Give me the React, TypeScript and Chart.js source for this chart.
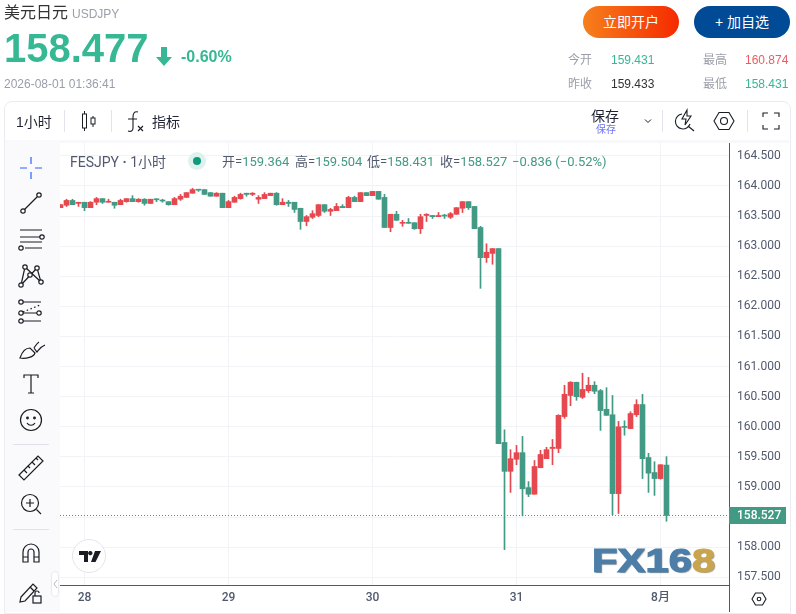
import React, { useEffect, useRef } from "react";
import { Chart, registerables } from "chart.js";
Chart.register(...registerables);

const firstIndex = -1;
const opens = [163.64,163.68,163.76,163.71,163.73,163.64,163.73,163.79,163.73,163.73,163.69,163.74,163.79,163.74,163.78,163.71,163.78,163.76,163.74,163.69,163.78,163.81,163.88,163.94,163.94,163.89,163.83,163.88,163.64,163.73,163.79,163.88,163.86,163.78,163.79,163.84,163.88,163.69,163.73,163.73,163.63,163.41,163.48,163.51,163.69,163.58,163.59,163.66,163.64,163.81,163.74,163.89,163.84,163.91,163.81,163.31,163.53,163.38,163.39,163.39,163.29,163.51,163.51,163.49,163.51,163.48,163.53,163.63,163.74,163.66,163.31,162.81,162.88,162.96,159.74,159.26,159.46,159.57,158.99,158.88,159.32,159.47,159.64,159.64,160.17,160.52,160.74,160.49,160.60,160.69,160.60,160.29,160.20,158.89,160.00,159.97,160.20,160.37,159.49,159.24,159.14,159.364];
const highs = [163.69,163.78,163.78,163.73,163.73,163.74,163.81,163.79,163.78,163.73,163.78,163.79,163.84,163.79,163.79,163.78,163.79,163.78,163.74,163.81,163.86,163.89,163.96,163.94,163.94,163.89,163.89,163.88,163.76,163.83,163.88,163.88,163.89,163.84,163.89,163.88,163.89,163.79,163.76,163.73,163.63,163.51,163.59,163.69,163.69,163.63,163.71,163.69,163.83,163.83,163.89,163.89,163.91,163.91,163.86,163.53,163.58,163.43,163.46,163.39,163.53,163.54,163.51,163.56,163.53,163.56,163.64,163.74,163.74,163.66,163.33,163.04,162.96,162.96,159.95,159.62,159.69,159.84,159.09,159.44,159.61,159.66,159.79,160.20,160.69,160.75,160.74,160.89,160.82,160.75,160.62,160.65,160.52,160.09,160.10,160.25,160.45,160.54,159.56,159.42,159.37,159.504];
const lows = [163.64,163.66,163.69,163.66,163.59,163.64,163.69,163.71,163.73,163.63,163.69,163.73,163.74,163.73,163.68,163.71,163.74,163.73,163.68,163.69,163.76,163.81,163.88,163.91,163.86,163.83,163.83,163.64,163.64,163.73,163.78,163.83,163.84,163.71,163.79,163.84,163.68,163.69,163.66,163.56,163.28,163.34,163.46,163.49,163.56,163.51,163.59,163.64,163.64,163.74,163.74,163.84,163.84,163.78,163.31,163.24,163.43,163.33,163.38,163.28,163.21,163.41,163.46,163.49,163.46,163.46,163.53,163.56,163.61,163.29,162.30,162.73,162.70,159.72,157.96,158.91,159.37,158.52,158.84,158.88,159.32,159.47,159.37,159.57,160.14,160.35,160.44,160.47,160.57,160.55,159.94,160.19,158.54,158.56,159.86,159.97,160.17,159.14,158.91,158.86,159.13,158.431];
const closes = [163.69,163.76,163.69,163.73,163.64,163.73,163.79,163.73,163.74,163.68,163.76,163.79,163.74,163.78,163.71,163.78,163.77,163.75,163.69,163.79,163.83,163.89,163.94,163.93,163.86,163.83,163.88,163.64,163.74,163.81,163.86,163.86,163.88,163.81,163.86,163.88,163.69,163.73,163.71,163.61,163.41,163.49,163.54,163.69,163.58,163.61,163.66,163.64,163.81,163.74,163.89,163.84,163.91,163.78,163.31,163.53,163.43,163.39,163.38,163.29,163.49,163.53,163.49,163.51,163.50,163.54,163.64,163.74,163.64,163.29,162.81,162.90,162.96,159.72,159.26,159.47,159.57,158.97,158.88,159.34,159.54,159.62,159.66,160.19,160.54,160.74,160.50,160.62,160.69,160.59,160.27,160.19,158.89,160.00,159.99,160.22,160.37,159.47,159.23,159.14,159.37,158.527];

const dayTickIndexes = [3, 27, 51, 75, 99];
const dayTickLabels = ["28", "29", "30", "31", "8月"];
const priceTicks = [157.5, 158, 158.5, 159, 159.5, 160, 160.5, 161, 161.5, 162, 162.5, 163, 163.5, 164, 164.5];
const lastPrice = 158.527;
const priceMin = 157.372;
const priceMax = 164.714;
const indexMin = -1.0833;
const indexMax = 110.4167;

const UP = "#e5484f";
const DOWN = "#429a84";
const AXIS = "#50596e";
const GRID = "#f1f3f6";
const TICK_FONT = "Roboto, 'Noto Sans CJK SC', sans-serif";
const UI_FONT = "'Liberation Sans', 'Noto Sans CJK SC', sans-serif";

const pos = (l: number, t: number, extra: React.CSSProperties = {}): React.CSSProperties => ({
  position: "absolute", left: l, top: t, whiteSpace: "nowrap", ...extra,
});

function Txt({ x, y, size, color, weight, font, children, extra }: any) {
  return (
    <div style={pos(x, y - size, { fontSize: size, lineHeight: `${size * 2}px`, color, fontWeight: weight ?? 400, fontFamily: font ?? UI_FONT, ...(extra || {}) })}>
      {children}
    </div>
  );
}

function Ic({ cx, cy, children, w = 30, h = 30, sw = 1.2 }: any) {
  return (
    <svg width={w} height={h} viewBox={`${-w / 2} ${-h / 2} ${w} ${h}`} fill="none" stroke="#1a1c24" strokeWidth={sw}
      style={{ position: "absolute", left: cx - w / 2, top: cy - h / 2 }}>
      {children}
    </svg>
  );
}

const Node = ({ x, y, r = 2.2 }: any) => <circle cx={x} cy={y} r={r} fill="#fff" />;

export default function App() {
  const ref = useRef<HTMLCanvasElement>(null);
  useEffect(() => {
    const idx = opens.map((_, i) => firstIndex + i);
    const colors = opens.map((o, i) => (closes[i] >= o ? UP : DOWN));
    const priceTag = {
      id: "priceTag",
      afterDraw(c: any) {
        const y = c.scales.y.getPixelForValue(lastPrice);
        const ctx = c.ctx;
        ctx.save();
        ctx.fillStyle = DOWN;
        ctx.fillRect(c.chartArea.right, Math.round(y) - 8, 57, 17);
        ctx.fillStyle = "#fff";
        ctx.font = `500 12px ${TICK_FONT}`;
        ctx.textBaseline = "middle";
        ctx.textAlign = "left";
        ctx.fillText(lastPrice.toFixed(3), c.chartArea.right + 8, Math.round(y) + 0.5);
        ctx.restore();
      },
    };
    const chart = new Chart(ref.current as HTMLCanvasElement, {
      type: "bar",
      data: {
        datasets: [
          {
            type: "line",
            data: [{ x: indexMin, y: lastPrice }, { x: indexMax, y: lastPrice }],
            borderColor: DOWN, borderWidth: 1, borderDash: [1, 2], pointRadius: 0, order: 0,
          } as any,
          {
            data: idx.map((x, i) => ({ x, y: [lows[i], highs[i]] })),
            backgroundColor: colors, barThickness: 1, grouped: false, order: 2,
          } as any,
          {
            data: idx.map((x, i) => ({ x, y: [opens[i], closes[i]] })),
            backgroundColor: colors, barThickness: 5, grouped: false, minBarLength: 1, order: 1,
          } as any,
        ],
      },
      plugins: [priceTag],
      options: {
        animation: false,
        responsive: false,
        devicePixelRatio: 1,
        layout: { padding: { left: 60, top: 143, right: 6, bottom: 2 } },
        plugins: { legend: { display: false }, tooltip: { enabled: false }, title: { display: false } },
        scales: {
          x: {
            type: "linear", min: indexMin, max: indexMax, offset: false,
            afterBuildTicks: (s: any) => { s.ticks = dayTickIndexes.map((value) => ({ value })); },
            afterFit: (s: any) => { s.height = 27; },
            ticks: {
              autoSkip: false, maxRotation: 0, padding: 6,
              color: AXIS, font: { family: TICK_FONT, size: 12, weight: "500" },
              callback: (v: any) => dayTickLabels[dayTickIndexes.indexOf(v)] ?? "",
            },
            grid: { color: GRID, drawTicks: false, offset: false },
            border: { color: AXIS, width: 1 },
          },
          y: {
            position: "right", min: priceMin, max: priceMax,
            afterBuildTicks: (s: any) => { s.ticks = priceTicks.map((value) => ({ value })); },
            afterFit: (s: any) => { s.width = 61; },
            ticks: {
              padding: 8, color: AXIS, font: { family: TICK_FONT, size: 12 },
              callback: (v: any) => Number(v).toFixed(3),
            },
            grid: { color: GRID, drawTicks: false },
            border: { color: AXIS, width: 1 },
          },
        },
      } as any,
    });
    return () => chart.destroy();
  }, []);

  const green = "#35b893";
  const grey = "#9a9ea9";
  const Lg = ({ x, k, v }: any) => (
    <Txt x={x} y={162} size={13} color={AXIS} font={TICK_FONT}>{k}<span style={{ color: DOWN }}>{v}</span></Txt>
  );
  return (
    <div style={{ position: "absolute", left: 0, top: 0, width: 796, height: 614, overflow: "hidden", background: "#fff", fontFamily: UI_FONT }}>
      {/* frame */}
      <div style={{ position: "absolute", left: 4, top: 101, width: 785, height: 511, border: "1px solid #ececf0", borderRadius: "8px 8px 0 0" }} />
      <div style={{ position: "absolute", left: 5, top: 140, width: 784, height: 3, background: "#f8f8fb" }} />
      <div style={{ position: "absolute", left: 5, top: 140, width: 55, height: 472, background: "#fafafc" }} />
      <canvas ref={ref} width={796} height={614} style={{ position: "absolute", left: 0, top: 0, width: 796, height: 614 }} />
      <div style={{ position: "absolute", left: 729, top: 585, width: 1, height: 27, background: AXIS }} />

      {/* header */}
      <Txt x={4} y={13} size={16} color="#333">美元日元</Txt>
      <Txt x={72} y={14} size={12} color={grey}>USDJPY</Txt>
      <Txt x={4} y={48} size={40} color={green} weight={700}>158.477</Txt>
      <svg width={16} height={19} viewBox="0 0 16 19" style={{ position: "absolute", left: 156, top: 47 }}>
        <path d="M5 0H11V10H16L8 19L0 10H5Z" fill={green} />
      </svg>
      <Txt x={181} y={57} size={16} color={green} weight={700}>-0.60%</Txt>
      <Txt x={4} y={84} size={12} color={grey}>2026-08-01 01:36:41</Txt>

      <div style={{ position: "absolute", left: 583, top: 6, width: 96, height: 32, borderRadius: 16, background: "linear-gradient(90deg,#f6801c,#f52a00)", color: "#fff", fontSize: 14, lineHeight: "32px", textAlign: "center" }}>立即开户</div>
      <div style={{ position: "absolute", left: 694, top: 6, width: 96, height: 32, borderRadius: 16, background: "#004a96", color: "#fff", fontSize: 14, lineHeight: "32px", textAlign: "center" }}>+ 加自选</div>

      <Txt x={568} y={60} size={12} color={grey}>今开</Txt>
      <Txt x={611} y={60} size={12} color={green}>159.431</Txt>
      <Txt x={703} y={60} size={12} color={grey}>最高</Txt>
      <Txt x={745} y={60} size={12} color="#ee5a5f">160.874</Txt>
      <Txt x={568} y={84} size={12} color={grey}>昨收</Txt>
      <Txt x={611} y={84} size={12} color="#333">159.433</Txt>
      <Txt x={703} y={84} size={12} color={grey}>最低</Txt>
      <Txt x={745} y={84} size={12} color={green}>158.431</Txt>

      {/* top toolbar */}
      <Txt x={16} y={122} size={14} color="#1f2230">1小时</Txt>
      <div style={{ position: "absolute", left: 64, top: 110, width: 1, height: 22, background: "#e2e4ea" }} />
      <div style={{ position: "absolute", left: 111, top: 110, width: 1, height: 22, background: "#e2e4ea" }} />
      <Ic cx={88.5} cy={121} sw={1}>
        <path d="M-4.5 -10V10M4 -5V6" />
        <rect x={-6.5} y={-7} width={4} height={14} fill="#fff" />
        <rect x={2} y={-3} width={4} height={6} fill="#fff" />
      </Ic>
      <Ic cx={135} cy={122} sw={1.1}>
        <path d="M3 -10C-1 -11 -2 -8 -2 -5V6C-2 9 -4 10 -7 9M-7 -3H2" />
        <path d="M3 4L8 9M8 4L3 9" />
      </Ic>
      <Txt x={152} y={122} size={14} color="#1f2230">指标</Txt>
      <Txt x={591} y={116} size={14} color="#1f2230">保存</Txt>
      <Txt x={596} y={130} size={10} color="#6d76f5">保存</Txt>
      <Ic cx={648} cy={121} sw={1}><path d="M-3 -1.5L0 1.5L3 -1.5" /></Ic>
      <div style={{ position: "absolute", left: 662, top: 110, width: 1, height: 22, background: "#e2e4ea" }} />
      <Ic cx={685} cy={121} sw={1.1}>
        <path d="M-3 -7A7.5 7.5 0 1 0 5 3" />
        <path d="M2 -11L-3 -2H1L0 4L6 -5H2Z" />
        <path d="M3 5L9 10" />
      </Ic>
      <Ic cx={724} cy={121} sw={1.1}>
        <path d="M-10 0L-5 -8.5H5L10 0L5 8.5H-5Z" /><circle r={3.5} />
      </Ic>
      <div style={{ position: "absolute", left: 747, top: 110, width: 1, height: 22, background: "#e2e4ea" }} />
      <Ic cx={770.5} cy={121} sw={1.1}>
        <path d="M-8 -4V-8H-3M3 -8H8V-4M8 4V8H3M-3 8H-8V4" />
      </Ic>

      {/* legend */}
      <Txt x={70} y={162} size={14} color={AXIS} font={TICK_FONT}>FESJPY <span style={{ fontWeight: 700 }}>·</span> 1小时</Txt>
      <div style={{ position: "absolute", left: 188, top: 152, width: 18, height: 18, borderRadius: 9, background: "#dff1ec" }} />
      <div style={{ position: "absolute", left: 193, top: 157, width: 8, height: 8, borderRadius: 4, background: "#0f9a7c" }} />
      <Lg x={222} k="开=" v="159.364" />
      <Lg x={295} k="高=" v="159.504" />
      <Lg x={367} k="低=" v="158.431" />
      <Lg x={440} k="收=" v="158.527" />
      <Lg x={512} k="" v="−0.836 (−0.52%)" />

      {/* left tools */}
      <Ic cx={31} cy={168} sw={1.2}>
        <path stroke="#2962ff" d="M-11 0H-4M4 0H11M0 -11V-4M0 4V11" />
      </Ic>
      <Ic cx={31} cy={203}><path d="M-7 7L7 -7" /><Node x={-8} y={8} /><Node x={8} y={-8} /></Ic>
      <Ic cx={31} cy={240}>
        <path d="M-11 -10H11M-11 -3H10M-11 2H11M-6 8H11" /><Node x={11} y={-3} /><Node x={-10} y={8} />
      </Ic>
      <Ic cx={31} cy={275}>
        <path d="M-10 10L-6 -8L10 7L6 -7L-10 10" /><Node x={-6} y={-8} /><Node x={6} y={-7} /><Node x={-1} y={0} /><Node x={-10} y={10} /><Node x={10} y={7} />
      </Ic>
      <Ic cx={31} cy={312}>
        <path d="M-9 -10H10M-9 1H9M-9 9H10" /><path strokeDasharray="1.5 2.5" d="M-8 0L9 -7" />
        <Node x={-10} y={-10} /><Node x={-10} y={1} /><Node x={8} y={1} /><Node x={-10} y={9} />
      </Ic>
      <Ic cx={31} cy={349}>
        <path d="M-11 9C-9 3 -6 -1 -1 -1L4 4C3 8 -5 10 -11 9Z" /><path d="M3 -1L6 3C8 1 9 -2 14 -4M3 -1C5 -4 6 -6 8 -7" />
      </Ic>
      <Ic cx={31} cy={384}><path d="M-7 -6V-9H7V-6M0 -9V9M-3 9H3" /></Ic>
      <Ic cx={31} cy={420}>
        <circle r={10.5} /><circle cx={-3.5} cy={-2} r={0.8} fill="#1a1c24" /><circle cx={3.5} cy={-2} r={0.8} fill="#1a1c24" />
        <path d="M-4 3C-2 6 2 6 4 3" />
      </Ic>
      <div style={{ position: "absolute", left: 13, top: 444, width: 36, height: 1, background: "#e0e3ec" }} />
      <Ic cx={31} cy={468}>
        <path d="M-12 7L7 -12L12 -7L-7 12Z" /><path d="M-7 2L-4 5M-3 -2L-1 0M1 -6L4 -3M5 -10L7 -8" />
      </Ic>
      <Ic cx={31} cy={504}>
        <circle cx={-1} cy={-1} r={8.5} /><path d="M-5 -1H3M-1 -5V3M5.5 5.5L10 10" />
      </Ic>
      <div style={{ position: "absolute", left: 13, top: 529, width: 36, height: 1, background: "#e0e3ec" }} />
      <Ic cx={31} cy={553}>
        <path d="M-8 9V-1A8 8 0 0 1 8 -1V9H3V-1A3 3 0 0 0 -3 -1V9ZM-8 4H-3M3 4H8" />
      </Ic>
      <Ic cx={31} cy={592}>
        <path d="M-10 5L2 -8L6 -4L-6 9L-11 10Z" /><path d="M-1 -5L3 -1" />
        <rect x={2} y={4} width={8} height={7} /><path d="M4 4V1A2 2 0 0 1 8 1" />
      </Ic>
      <div style={{ position: "absolute", left: 51, top: 571, width: 8, height: 26, border: "1px solid #e8e9ee", borderRadius: 4, background: "#fff", boxSizing: "border-box" }} />
      <svg width={6} height={10} style={{ position: "absolute", left: 53, top: 579 }}><path d="M4 1L1 5L4 9" fill="none" stroke="#b5b8c2" /></svg>

      {/* logo & watermark */}
      <div style={{ position: "absolute", left: 72, top: 539, width: 34, height: 34, borderRadius: 17, background: "#fff", border: "1px solid #e4e4ee", boxSizing: "border-box" }} />
      <svg width={22} height={11} viewBox="0 0 22 11" style={{ position: "absolute", left: 79, top: 551 }}>
        <path d="M0 0H9V11H5V4H0ZM13.5 2.2A2.2 2.2 0 1 1 13.5 2.1ZM16 0H22L16.5 11H12Z" fill="#1a1c24" />
      </svg>
      <div style={pos(592, 540, { fontFamily: UI_FONT, fontWeight: 700, fontSize: 34, lineHeight: "40px", color: "#4c7ea8", transform: "scaleX(1.23)", transformOrigin: "left center", WebkitTextStroke: "1.2px #4c7ea8", textShadow: "1px 1px 1px rgba(60,60,60,.55)" })}>
        FX16<span style={{ color: "#c9a550", WebkitTextStroke: "1.2px #c9a550" }}>8</span>
      </div>

      <Ic cx={759} cy={599} sw={1.1}>
        <path d="M-7 0L-3.5 -6H3.5L7 0L3.5 6H-3.5Z" /><circle r={1.8} />
      </Ic>
    </div>
  );
}
